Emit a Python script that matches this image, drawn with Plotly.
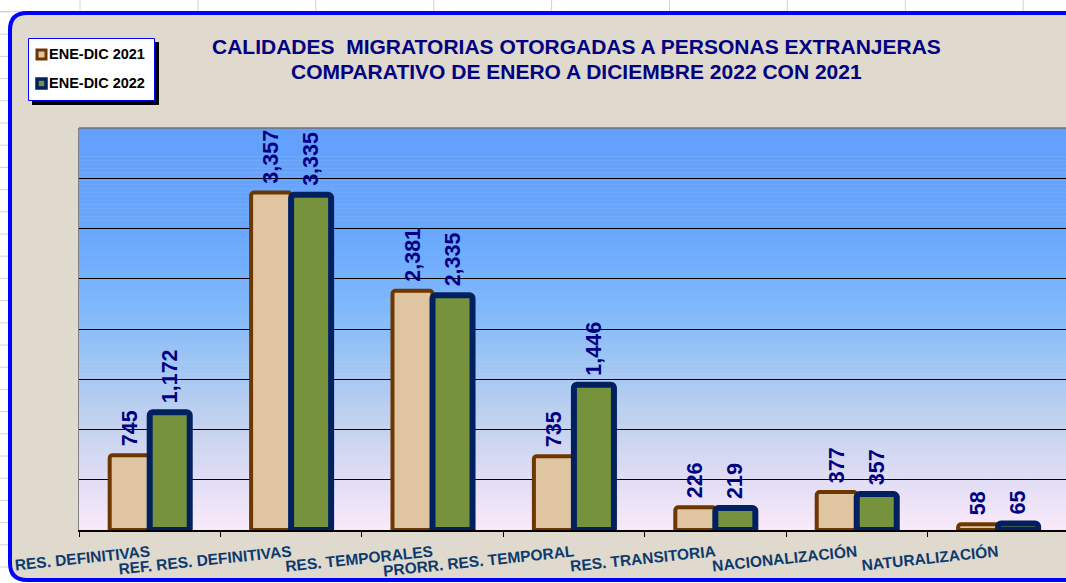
import plotly.graph_objects as go

# ---------------- data ----------------
categories = ["RES. DEFINITIVAS", "REF. RES. DEFINITIVAS", "RES. TEMPORALES",
              "PRORR. RES. TEMPORAL", "RES. TRANSITORIA", "NACIONALIZACIÓN",
              "NATURALIZACIÓN"]
values_2021 = [745, 3357, 2381, 735, 226, 377, 58]
values_2022 = [1172, 3335, 2335, 1446, 219, 357, 65]
series_names = ["ENE-DIC 2021", "ENE-DIC 2022"]
title_lines = ["CALIDADES  MIGRATORIAS OTORGADAS A PERSONAS EXTRANJERAS",
               "COMPARATIVO DE ENERO A DICIEMBRE 2022 CON 2021"]
y_max = 4000
grid_vals = [500, 1000, 1500, 2000, 2500, 3000, 3500]

# ---------------- geometry helpers ----------------
W, H = 1066, 583
L, R, T, B = 79, 1066, 128, 530


def px(x):
    return (x - L) / (R - L)


def py(y):
    return (B - y) / (B - T)


FONT = "Arial, Liberation Sans, sans-serif"
NAVY_TXT = "#000080"
CAT_TXT = "#0d3a6c"

fig = go.Figure()
fig.add_trace(go.Bar(
    x=categories, y=values_2021, name=series_names[0],
    marker=dict(color="#dfc5a0", line=dict(color="#6e3700", width=4), cornerradius=3),
    texttemplate="\u00a0%{y:,}", textposition="outside", textangle=-90,
    textfont=dict(family=FONT, size=21.5, color=NAVY_TXT, weight="bold"),
    cliponaxis=False, constraintext="none", showlegend=False,
))
fig.add_trace(go.Bar(
    x=categories, y=values_2022, name=series_names[1],
    marker=dict(color="#76923c", line=dict(color="#002060", width=6), cornerradius=3),
    texttemplate="\u00a0%{y:,}", textposition="outside", textangle=-90,
    textfont=dict(family=FONT, size=21.5, color=NAVY_TXT, weight="bold"),
    cliponaxis=False, constraintext="none", showlegend=False,
))

shapes = []
# spreadsheet grid outside the chart frame
k = 0
while 12 + 22.2 * k < H:
    yy = 12 + 22.2 * k
    shapes.append(dict(type="line", xref="paper", yref="paper", x0=px(0), x1=px(10),
                       y0=py(yy), y1=py(yy), line=dict(color="#d2d2d2", width=1), layer="below"))
    k += 1
for k in range(9):
    xx = 80 + 117.9 * k
    shapes.append(dict(type="line", xref="paper", yref="paper", x0=px(xx), x1=px(xx),
                       y0=py(0), y1=py(14), line=dict(color="#d2d2d2", width=1), layer="below"))
shapes.append(dict(type="line", xref="paper", yref="paper", x0=px(0), x1=px(W),
                   y0=py(11.5), y1=py(11.5), line=dict(color="#d2d2d2", width=1), layer="below"))

# rounded chart frame
x0f, y0f, x1f, y1f, r = 10, 13, 1100, 580, 17
path = (f"M {px(x0f + r)},{py(y0f)} L {px(x1f)},{py(y0f)} L {px(x1f)},{py(y1f)} "
        f"L {px(x0f + r)},{py(y1f)} Q {px(x0f)},{py(y1f)} {px(x0f)},{py(y1f - r)} "
        f"L {px(x0f)},{py(y0f + r)} Q {px(x0f)},{py(y0f)} {px(x0f + r)},{py(y0f)} Z")
shapes.append(dict(type="path", xref="paper", yref="paper", path=path,
                   fillcolor="#dfd9ce", line=dict(color="#0000ff", width=4), layer="below"))

# plot-area gradient
stops = [(0.0, (99, 159, 255)), (0.25, (104, 167, 255)), (0.45, (128, 184, 250)),
         (0.6, (163, 199, 242)), (0.75, (198, 211, 238)), (0.88, (226, 222, 245)),
         (1.0, (250, 233, 250))]


def grad(t):
    for (t0, c0), (t1, c1) in zip(stops[:-1], stops[1:]):
        if t0 <= t <= t1:
            f = (t - t0) / (t1 - t0)
            return "rgb(%d,%d,%d)" % tuple(round(a + (b - a) * f) for a, b in zip(c0, c1))
    return "rgb(%d,%d,%d)" % stops[-1][1]


N = 100
for i in range(N):
    t = (i + 0.5) / N  # 0 at top
    shapes.append(dict(type="rect", xref="paper", yref="paper", x0=0, x1=1,
                       y0=1 - (i + 1) / N - 0.001, y1=1 - i / N, fillcolor=grad(t),
                       line=dict(width=0), layer="below"))
# top border of plot area
shapes.append(dict(type="line", xref="paper", yref="paper", x0=0, x1=1, y0=1, y1=1,
                   line=dict(color="#707070", width=1.5), layer="below"))

# legend box (manual)
shapes.append(dict(type="rect", xref="paper", yref="paper", x0=px(32), x1=px(159),
                   y0=py(105), y1=py(42), fillcolor="#000000", line=dict(width=0), layer="above"))
shapes.append(dict(type="rect", xref="paper", yref="paper", x0=px(28.5), x1=px(154.5),
                   y0=py(100.5), y1=py(38.5), fillcolor="#ffffff",
                   line=dict(color="#0000ff", width=1), layer="above"))
shapes.append(dict(type="rect", xref="paper", yref="paper", x0=px(37), x1=px(46),
                   y0=py(59), y1=py(50), fillcolor="#dfc5a0",
                   line=dict(color="#6e3700", width=3), layer="above"))
shapes.append(dict(type="rect", xref="paper", yref="paper", x0=px(37), x1=px(46),
                   y0=py(88), y1=py(79), fillcolor="#76923c",
                   line=dict(color="#002060", width=3.5), layer="above"))

annotations = []
for txt, yy in zip(title_lines, [47, 72]):
    annotations.append(dict(text=txt, xref="paper", yref="paper", x=px(576), y=py(yy),
                            xanchor="center", yanchor="middle", showarrow=False,
                            font=dict(family=FONT, size=21, color=NAVY_TXT, weight="bold")))
for txt, yy in zip(series_names, [54, 83]):
    annotations.append(dict(text=txt, xref="paper", yref="paper", x=px(47), y=py(yy),
                            xanchor="left", yanchor="middle", showarrow=False,
                            font=dict(family=FONT, size=14.5, color="#000000", weight="bold")))

fig.update_layout(
    width=W, height=H,
    margin=dict(l=L, r=W - R, t=T, b=H - B, pad=0),
    paper_bgcolor="#ffffff", plot_bgcolor="rgba(0,0,0,0)",
    barmode="group", bargap=0.434, bargroupgap=0.0,
    shapes=shapes, annotations=annotations,
    showlegend=False,
    xaxis=dict(type="category", range=[-0.5, 6.48], tickson="boundaries",
               ticks="outside", ticklen=5, tickcolor="#000000", tickwidth=1,
               showline=True, linecolor="#000000", linewidth=1.5, showgrid=False,
               tickangle=-6, automargin=False, ticklabelstandoff=6,
               tickfont=dict(family=FONT, size=15.5, color=CAT_TXT, weight="bold")),
    yaxis=dict(range=[0, y_max], tickvals=grid_vals, showticklabels=False,
               showgrid=True, gridcolor="#000000", gridwidth=1.2,
               zeroline=False, showline=True, linecolor="#808080", linewidth=1,
               ticks="", automargin=False, fixedrange=True),
)

fig.write_html("out.html", config={"displayModeBar": False},
               post_script="document.body.style.margin='0px';document.body.style.padding='0px';")
